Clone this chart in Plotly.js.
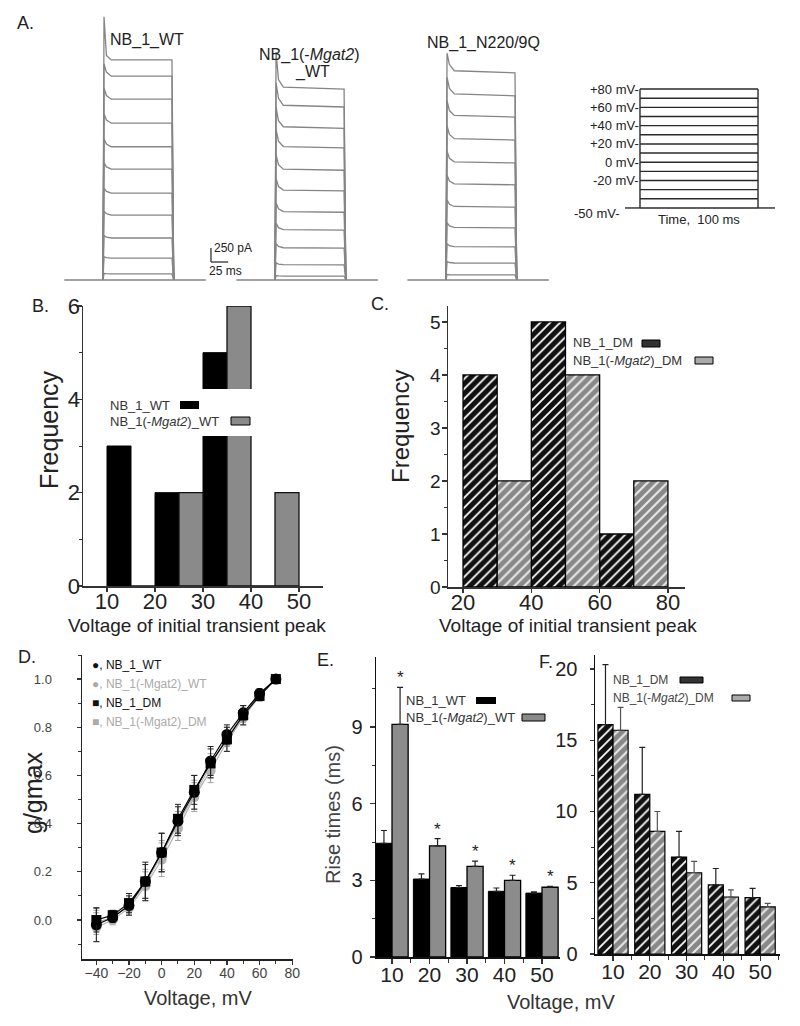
<!DOCTYPE html>
<html><head><meta charset="utf-8">
<script src="https://cdn.plot.ly/plotly-3.0.1.min.js"></script>
<style>html,body{margin:0;padding:0;background:#fff}#chart{width:800px;height:1026px}</style>
</head><body><div id="chart"></div>
<script>
// ---------------- DATA ----------------
// Panel A: current families (steady-state levels and peak, pA)
const famLevelsWT = [3930, 3640, 3230, 2800, 2380, 1980, 1550, 1160, 750, 390, 110];
const famLevelsMgatWT = [3410, 3090, 2710, 2360, 1960, 1590, 1210, 890, 570, 270, 70];
const famLevelsN220 = [3700, 3290, 2910, 2500, 2090, 1700, 1300, 930, 590, 300, 90];
const famPeaks = [4700, 4070, 4050];
const famOnset = [[1.06, 1.02, 1.0], [1.14, 1.05, 1.01], [1.10, 1.04, 1.01]];
const onsetTimes = [1.5, 5, 12];
const pulseStartMs = 0, pulseEndMs = 100;
const holdSpanMs = [-56, 149];
const familyNames = ['NB_1_WT', 'NB_1(-<i>Mgat2</i>)', '_WT', 'NB_1_N220/9Q'];
// voltage protocol
const protoLevels = [-50, -40, -30, -20, -10, 0, 10, 20, 30, 40, 50, 60, 70, 80];
const protoLabelLevels = [80, 60, 40, 20, 0, -20];
const protoLabels = ['+80 mV-', '+60 mV-', '+40 mV-', '+20 mV-', '0 mV-', '-20 mV-'];
const holdLabel = '-50 mV-';
const holdLevel = -50;
// Panel B
const binsB = [10, 20, 30, 40];
const freqB_WT = [3, 2, 5, 0];
const freqB_Mgat = [0, 2, 6, 2];
// Panel C
const binsC = [20, 40, 60];
const freqC_DM = [4, 5, 1];
const freqC_Mgat = [2, 4, 2];
// Panel D
const voltD = [-40, -30, -20, -10, 0, 10, 20, 30, 40, 50, 60, 70];
const gD_WT = [-0.02, 0.01, 0.06, 0.16, 0.28, 0.41, 0.53, 0.66, 0.77, 0.86, 0.94, 1.0];
const gD_MgatWT = [-0.03, 0.0, 0.05, 0.14, 0.25, 0.38, 0.51, 0.62, 0.74, 0.84, 0.93, 1.0];
const gD_DM = [0.0, 0.02, 0.07, 0.16, 0.28, 0.42, 0.54, 0.65, 0.75, 0.85, 0.93, 1.0];
const gD_MgatDM = [-0.01, 0.01, 0.06, 0.15, 0.27, 0.40, 0.52, 0.64, 0.76, 0.85, 0.94, 1.0];
const eD_WT = [0.07, 0.02, 0.04, 0.07, 0.08, 0.06, 0.07, 0.06, 0.04, 0.03, 0.02, 0.0];
const eD_MgatWT = [0.06, 0.02, 0.03, 0.06, 0.07, 0.05, 0.06, 0.05, 0.04, 0.03, 0.02, 0.0];
const eD_DM = [0.05, 0.02, 0.04, 0.08, 0.08, 0.06, 0.06, 0.06, 0.05, 0.04, 0.02, 0.0];
const eD_MgatDM = [0.05, 0.02, 0.03, 0.06, 0.06, 0.05, 0.06, 0.05, 0.04, 0.03, 0.02, 0.0];
// Panel E
const voltE = [10, 20, 30, 40, 50];
const riseE_WT = [4.45, 3.05, 2.72, 2.57, 2.5];
const errE_WT = [0.5, 0.2, 0.07, 0.13, 0.05];
const riseE_Mgat = [9.1, 4.35, 3.55, 3.0, 2.73];
const errE_Mgat = [1.45, 0.28, 0.2, 0.2, 0.03];
const sigE = ['*', '*', '*', '*', '*'];
// Panel F
const voltF = [10, 20, 30, 40, 50];
const riseF_DM = [16.1, 11.2, 6.8, 4.85, 3.95];
const errF_DM = [4.2, 3.3, 1.8, 1.15, 0.65];
const riseF_Mgat = [15.7, 8.6, 5.7, 4.0, 3.3];
const errF_Mgat = [1.6, 1.4, 0.8, 0.5, 0.25];

// ---------------- HELPERS ----------------
const W = 800, H = 1026;
const FONT = 'Liberation Sans, Arial, sans-serif';
const xd = (a, b) => [a / W, b / W];
const yd = (top, bottom) => [1 - bottom / H, 1 - top / H];
const zeros = a => a.map(() => 0);

function buildFamily(levels, peak, onset) {
  const x = [], y = [];
  x.push(holdSpanMs[0], holdSpanMs[1], null); y.push(0, 0, null);
  levels.forEach((L, i) => {
    x.push(pulseStartMs); y.push(0);
    onsetTimes.forEach((t, k) => { x.push(t); y.push(i === 0 && k === 0 ? peak : L * onset[k]); });
    x.push(pulseEndMs, pulseEndMs + 2.5, null); y.push(L, 0, null);
  });
  return {x, y};
}

const hidden = (domain, range, anchor) => ({domain, range, anchor, visible: false, fixedrange: true});
function ax(o) {
  return Object.assign({showgrid: false, zeroline: false, showline: true, linecolor: '#333', linewidth: 1.5,
    ticks: 'outside', ticklen: 5, tickwidth: 1.2, tickcolor: '#333', automargin: false, fixedrange: true,
    tickfont: {family: FONT, size: 20, color: '#222'}}, o);
}
function minor(d, len) { return {dtick: d, ticks: 'outside', ticklen: len || 3, tickwidth: 1, tickcolor: '#333', showgrid: false}; }

const annotations = [];
function T(text, x, y, o) {
  annotations.push(Object.assign({text, x: x / W, y: 1 - y / H, xref: 'paper', yref: 'paper', showarrow: false,
    xanchor: 'left', yanchor: 'middle', font: {family: FONT, size: 13, color: '#222'}}, o || {}));
}
const shapes = [];
function R(x0, y0, x1, y1, fill, line) {
  shapes.push({type: 'rect', xref: 'paper', yref: 'paper', x0: x0 / W, x1: x1 / W, y0: 1 - y1 / H, y1: 1 - y0 / H,
    fillcolor: fill, line: {color: line || fill, width: line ? 1 : 0}, layer: 'above'});
}

// ---------------- TRACES ----------------
const traces = [];
const famLevels = [famLevelsWT, famLevelsMgatWT, famLevelsN220];
famLevels.forEach((lv, i) => {
  const f = buildFamily(lv, famPeaks[i], famOnset[i]);
  const id = i === 0 ? '' : String(i + 1);
  traces.push({type: 'scatter', mode: 'lines', x: f.x, y: f.y, xaxis: 'x' + id, yaxis: 'y' + id,
    line: {color: '#858585', width: 1.3}, hoverinfo: 'skip', showlegend: false});
});

// protocol
const protoX = [-12.7, 114.4];
(function () {
  const x = [], y = [];
  protoLevels.forEach(v => { x.push(pulseStartMs, pulseEndMs, null); y.push(v, v, null); });
  x.push(pulseStartMs, pulseStartMs, null, pulseEndMs, pulseEndMs, null);
  y.push(holdLevel, protoLevels[protoLevels.length - 1], null, holdLevel, protoLevels[protoLevels.length - 1], null);
  x.push(protoX[0], pulseStartMs, null, pulseEndMs, protoX[1]);
  y.push(holdLevel, holdLevel, null, holdLevel, holdLevel);
  traces.push({type: 'scatter', mode: 'lines', x, y, xaxis: 'x4', yaxis: 'y4',
    line: {color: '#2a2a2a', width: 1.4}, hoverinfo: 'skip', showlegend: false});
})();

// B
traces.push({type: 'bar', x: binsB, y: freqB_WT, offset: 0, width: 5, xaxis: 'x5', yaxis: 'y5',
  marker: {color: '#000', line: {color: '#000', width: 1}}, showlegend: false});
traces.push({type: 'bar', x: binsB, y: freqB_Mgat, offset: 5, width: 5, xaxis: 'x5', yaxis: 'y5',
  marker: {color: '#8a8a8a', line: {color: '#111', width: 1.3}}, showlegend: false});
// C
traces.push({type: 'bar', x: binsC, y: freqC_DM, offset: 0, width: 10, xaxis: 'x6', yaxis: 'y6',
  marker: {color: '#111', line: {color: '#000', width: 1.3},
    pattern: {shape: '/', bgcolor: '#111', fgcolor: '#ffffff', size: 7, solidity: 0.25}}, showlegend: false});
traces.push({type: 'bar', x: binsC, y: freqC_Mgat, offset: 10, width: 10, xaxis: 'x6', yaxis: 'y6',
  marker: {color: '#8a8a8a', line: {color: '#000', width: 1.3},
    pattern: {shape: '/', bgcolor: '#888888', fgcolor: '#e8e8e8', size: 7, solidity: 0.3}}, showlegend: false});
// D
function dTrace(y, e, sym, col, ecol, size) {
  return {type: 'scatter', mode: 'lines+markers', x: voltD, y, xaxis: 'x7', yaxis: 'y7',
    line: {color: col, width: 1.2}, marker: {symbol: sym, size, color: col},
    error_y: {type: 'data', array: e, color: ecol, thickness: 1, width: 3}, showlegend: false, cliponaxis: false};
}
traces.push(dTrace(gD_MgatWT, eD_MgatWT, 'circle', '#b3b3b3', '#a0a0a0', 10));
traces.push(dTrace(gD_MgatDM, eD_MgatDM, 'square', '#b3b3b3', '#a0a0a0', 9));
traces.push(dTrace(gD_WT, eD_WT, 'circle', '#000', '#222', 11));
traces.push(dTrace(gD_DM, eD_DM, 'square', '#000', '#222', 10));
// E
traces.push({type: 'bar', x: voltE, y: riseE_WT, offset: -4.3, width: 4.3, xaxis: 'x8', yaxis: 'y8',
  marker: {color: '#000', line: {color: '#000', width: 1}},
  error_y: {type: 'data', symmetric: false, array: errE_WT, arrayminus: zeros(errE_WT), color: '#222', thickness: 1.2, width: 3},
  showlegend: false});
traces.push({type: 'bar', x: voltE, y: riseE_Mgat, offset: 0, width: 4.3, xaxis: 'x8', yaxis: 'y8',
  marker: {color: '#8c8c8c', line: {color: '#000', width: 1.3}},
  error_y: {type: 'data', symmetric: false, array: errE_Mgat, arrayminus: zeros(errE_Mgat), color: '#222', thickness: 1.2, width: 3},
  showlegend: false});
// F
traces.push({type: 'bar', x: voltF, y: riseF_DM, offset: -4.1, width: 4.1, xaxis: 'x9', yaxis: 'y9',
  marker: {color: '#111', line: {color: '#000', width: 1.2},
    pattern: {shape: '/', bgcolor: '#111', fgcolor: '#ffffff', size: 7, solidity: 0.25}},
  error_y: {type: 'data', symmetric: false, array: errF_DM, arrayminus: zeros(errF_DM), color: '#222', thickness: 1.2, width: 3},
  showlegend: false});
traces.push({type: 'bar', x: voltF, y: riseF_Mgat, offset: 0, width: 4.1, xaxis: 'x9', yaxis: 'y9',
  marker: {color: '#8a8a8a', line: {color: '#000', width: 1.2},
    pattern: {shape: '/', bgcolor: '#888888', fgcolor: '#e8e8e8', size: 7, solidity: 0.3}},
  error_y: {type: 'data', symmetric: false, array: errF_Mgat, arrayminus: zeros(errF_Mgat), color: '#555', thickness: 1.2, width: 3},
  showlegend: false});

// ---------------- ANNOTATIONS ----------------
// panel letters
T('A.', 15, 23, {font: {family: FONT, size: 18, color: '#222'}});
T('B.', 30, 306, {font: {family: FONT, size: 18, color: '#222'}});
T('C.', 369, 304, {font: {family: FONT, size: 18, color: '#222'}});
T('D.', 16, 657, {font: {family: FONT, size: 18, color: '#222'}});
T('E.', 315, 660, {font: {family: FONT, size: 18, color: '#222'}});
T('F.', 537, 662, {font: {family: FONT, size: 18, color: '#222'}});
// panel A labels
T(familyNames[0], 108, 40, {font: {family: FONT, size: 16, color: '#222'}});
T(familyNames[1], 309, 55, {xanchor: 'center', font: {family: FONT, size: 16, color: '#222'}});
T(familyNames[2], 312, 72, {xanchor: 'center', font: {family: FONT, size: 16, color: '#222'}});
T(familyNames[3], 483, 43, {xanchor: 'center', font: {family: FONT, size: 16, color: '#222'}});
// scale bar labels
const scalePA = 250, scaleMs = 25, scaleX = 156.5, scaleY = 321;
annotations.push({text: scalePA + ' pA', xref: 'x', yref: 'y', x: scaleX, y: scaleY + scalePA, xanchor: 'left', yanchor: 'middle',
  xshift: 1, showarrow: false, font: {family: FONT, size: 12, color: '#222'}});
annotations.push({text: scaleMs + ' ms', xref: 'x', yref: 'y', x: scaleX, y: scaleY, xanchor: 'left', yanchor: 'top',
  xshift: -4, showarrow: false, font: {family: FONT, size: 12, color: '#222'}});
shapes.push({type: 'line', xref: 'x', yref: 'y', x0: scaleX, x1: scaleX, y0: scaleY, y1: scaleY + scalePA, line: {color: '#333', width: 1.3}});
shapes.push({type: 'line', xref: 'x', yref: 'y', x0: scaleX, x1: scaleX + scaleMs, y0: scaleY, y1: scaleY, line: {color: '#333', width: 1.3}});
// protocol labels
protoLabelLevels.forEach((v, i) => annotations.push({text: protoLabels[i], xref: 'x4', yref: 'y4', x: pulseStartMs, y: v,
  xanchor: 'right', yanchor: 'middle', xshift: 1, showarrow: false, font: {family: FONT, size: 13, color: '#222'}}));
annotations.push({text: holdLabel, xref: 'x4', yref: 'y4', x: protoX[0], y: holdLevel, xanchor: 'right', yanchor: 'middle',
  xshift: -3, yshift: -6, showarrow: false, font: {family: FONT, size: 13, color: '#222'}});
annotations.push({text: 'Time,  100 ms', xref: 'x4', yref: 'y4', x: 50, y: holdLevel, xanchor: 'center', yanchor: 'top',
  yshift: -2, showarrow: false, font: {family: FONT, size: 13, color: '#222'}});

// axis titles
T('Frequency', 49, 430, {xanchor: 'center', textangle: -90, font: {family: FONT, size: 25, color: '#222'}});
T('Voltage of initial transient peak', 197, 625, {xanchor: 'center', font: {family: FONT, size: 19, color: '#222'}});
T('Frequency', 400, 427, {xanchor: 'center', textangle: -90, font: {family: FONT, size: 24, color: '#222'}});
T('Voltage of initial transient peak', 568, 625, {xanchor: 'center', font: {family: FONT, size: 19, color: '#222'}});
T('g/gmax', 33, 793, {xanchor: 'center', textangle: -90, font: {family: FONT, size: 25, color: '#222'}});
T('Voltage, mV', 198, 998, {xanchor: 'center', font: {family: FONT, size: 20, color: '#333'}});
T('Rise times (ms)', 333, 815, {xanchor: 'center', textangle: -90, font: {family: FONT, size: 20, color: '#444'}});
T('Voltage, mV', 561, 1002, {xanchor: 'center', font: {family: FONT, size: 20, color: '#333'}});

// legends B
R(104, 389, 253, 436, '#ffffff');
T('NB_1_WT', 108, 405, {font: {family: FONT, size: 13, color: '#333'}});
R(180, 401, 199, 409, '#000');
T('NB_1(-<i>Mgat2</i>)_WT', 108, 421, {font: {family: FONT, size: 13, color: '#333'}});
R(231, 417, 250, 425, '#8a8a8a', '#000');
// legends C
T('NB_1_DM', 571, 343, {font: {family: FONT, size: 13, color: '#333'}});
R(642, 340, 660, 347, '#333', '#000');
T('NB_1(-<i>Mgat2</i>)_DM', 571, 360, {font: {family: FONT, size: 13, color: '#333'}});
R(695, 357, 713, 364, '#aaa', '#000');
// legends D
T('●, NB_1_WT', 90, 665, {font: {family: FONT, size: 12, color: '#111'}});
T('●, NB_1(-Mgat2)_WT', 90, 684, {font: {family: FONT, size: 12, color: '#aaa'}});
T('■, NB_1_DM', 90, 703, {font: {family: FONT, size: 12, color: '#111'}});
T('■, NB_1(-Mgat2)_DM', 90, 722, {font: {family: FONT, size: 12, color: '#aaa'}});
// legends E
T('NB_1_WT', 404, 700, {font: {family: FONT, size: 13, color: '#333'}});
R(476, 697, 496, 704, '#000');
T('NB_1(-<i>Mgat2</i>)_WT', 404, 717, {font: {family: FONT, size: 13, color: '#333'}});
R(522, 714, 545, 721, '#8a8a8a', '#000');
// legends F
T('NB_1_DM', 611, 680, {font: {family: FONT, size: 12, color: '#444'}});
R(680, 677, 703, 683, '#333', '#000');
T('NB_1(-<i>Mgat2</i>)_DM', 611, 698, {font: {family: FONT, size: 12, color: '#444'}});
R(732, 695, 750, 701, '#aaa', '#000');
// significance stars E
voltE.forEach((v, i) => annotations.push({text: sigE[i], xref: 'x8', yref: 'y8', x: v + 2.15, y: riseE_Mgat[i] + errE_Mgat[i],
  xanchor: 'center', yanchor: 'bottom', yshift: -2, showarrow: false, font: {family: FONT, size: 17, color: '#222'}}));

// ---------------- LAYOUT ----------------
const layout = {
  width: W, height: H, margin: {l: 0, r: 0, t: 0, b: 0}, paper_bgcolor: '#fff', plot_bgcolor: 'rgba(0,0,0,0)',
  showlegend: false, barmode: 'overlay', font: {family: FONT},
  xaxis: hidden(xd(64, 236), [-56.5, 192.8], 'y'),
  yaxis: hidden(yd(15, 282), [-36, 4733], 'x'),
  xaxis2: hidden(xd(236, 380), [-56.5, 152], 'y2'),
  yaxis2: hidden(yd(15, 282), [-36, 4733], 'x2'),
  xaxis3: hidden(xd(407, 552), [-56.5, 153.6], 'y3'),
  yaxis3: hidden(yd(15, 282), [-36, 4733], 'x3'),
  xaxis4: hidden(xd(625, 775), protoX, 'y4'),
  yaxis4: hidden(yd(85, 212), [-54.4, 84.4], 'x4'),
  xaxis5: ax({domain: xd(83, 323), range: [5, 55], anchor: 'y5', tick0: 10, dtick: 10, ticklen: 4, ticklabelstandoff: -9,
    tickfont: {family: FONT, size: 22, color: '#222'}}),
  yaxis5: ax({domain: yd(306, 586), range: [0, 6], anchor: 'x5', tick0: 0, dtick: 2, ticklen: 5, minor: minor(1, 3),
    tickfont: {family: FONT, size: 22, color: '#222'}, ticklabelstandoff: -8}),
  xaxis6: ax({domain: xd(448, 685), range: [15.6, 85], anchor: 'y6', tick0: 20, dtick: 20, ticklen: 4,
    tickfont: {family: FONT, size: 22, color: '#222'}, ticklabelstandoff: -9}),
  yaxis6: ax({domain: yd(306, 587), range: [0, 5.3], anchor: 'x6', tick0: 0, dtick: 1, ticklen: 5, minor: minor(0.5, 3),
    tickfont: {family: FONT, size: 19, color: '#222'}, ticklabelstandoff: -3}),
  xaxis7: ax({domain: xd(82, 293), range: [-48.8, 80.5], anchor: 'y7', tick0: -40, dtick: 20, ticklen: 4, minor: minor(10, 3),
    tickfont: {family: FONT, size: 14, color: '#444'}, ticklabelstandoff: -3, linecolor: '#222'}),
  yaxis7: ax({domain: yd(655, 959), range: [-0.162, 1.1], anchor: 'x7', tick0: 0, dtick: 0.2, tickformat: '.1f', ticklen: 4,
    minor: minor(0.1, 3), tickfont: {family: FONT, size: 13, color: '#444'}, ticklabelstandoff: 22, linecolor: '#222'}),
  xaxis8: ax({domain: xd(376, 560), range: [5.73, 54.8], anchor: 'y8', tick0: 10, dtick: 10, ticklen: 5, minor: minor(5, 4),
    tickfont: {family: FONT, size: 21, color: '#222'}, ticklabelstandoff: -7, linecolor: '#111'}),
  yaxis8: ax({domain: yd(657, 957), range: [0, 11.74], anchor: 'x8', tick0: 0, dtick: 3, ticklen: 5, minor: minor(1.5, 3),
    tickfont: {family: FONT, size: 20, color: '#222'}, ticklabelstandoff: 3, linecolor: '#111'}),
  xaxis9: ax({domain: xd(595, 780), range: [5.1, 55.4], anchor: 'y9', tick0: 10, dtick: 10, ticklen: 5, minor: minor(5, 4),
    tickfont: {family: FONT, size: 21, color: '#222'}, ticklabelstandoff: -7, linecolor: '#111'}),
  yaxis9: ax({domain: yd(655, 954), range: [0, 20.98], anchor: 'x9', tick0: 0, dtick: 5, ticklen: 4, minor: minor(2.5, 3),
    tickfont: {family: FONT, size: 20, color: '#222'}, ticklabelstandoff: 8, linecolor: '#111'}),
  annotations, shapes
};

Plotly.newPlot('chart', traces, layout, {staticPlot: true, displayModeBar: false});
</script></body></html>
